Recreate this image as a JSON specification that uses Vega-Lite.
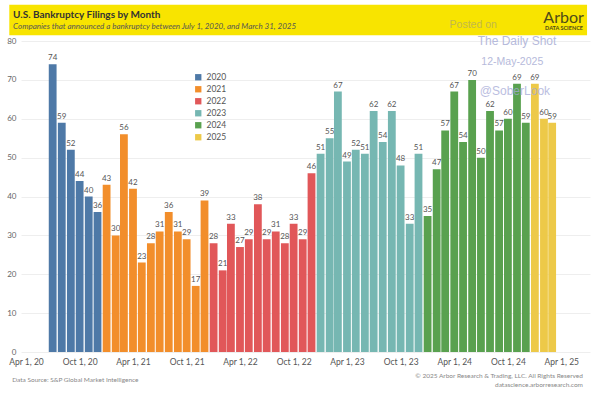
{
  "$schema": "https://vega.github.io/schema/vega-lite/v6.json",
  "width": 569,
  "height": 311,
  "autosize": {"type": "none"},
  "padding": {"left": 21, "top": 41, "right": 5, "bottom": 43},
  "background": "white",
  "config": {
    "view": {"stroke": null},
    "font": "Lato",
    "axisX": {"format": "%b %-d, %y", "formatType": "utc", "labelFlush": true, "labelOverlap": false, "domain": false, "ticks": false, "grid": false, "labelPadding": 5, "labelFontSize": 8.5, "labelColor": "#555555", "title": null},
    "axisY": {"domain": false, "ticks": false, "grid": true, "gridColor": "#eeeeee", "gridWidth": 1, "labelPadding": 5, "labelFontSize": 8, "labelColor": "#666666", "labelOverlap": false, "title": null}
  },
  "data": {"values": [
    {"month": "2020-07-01", "filings": 74, "year": "2020"},
    {"month": "2020-08-01", "filings": 59, "year": "2020"},
    {"month": "2020-09-01", "filings": 52, "year": "2020"},
    {"month": "2020-10-01", "filings": 44, "year": "2020"},
    {"month": "2020-11-01", "filings": 40, "year": "2020"},
    {"month": "2020-12-01", "filings": 36, "year": "2020"},
    {"month": "2021-01-01", "filings": 43, "year": "2021"},
    {"month": "2021-02-01", "filings": 30, "year": "2021"},
    {"month": "2021-03-01", "filings": 56, "year": "2021"},
    {"month": "2021-04-01", "filings": 42, "year": "2021"},
    {"month": "2021-05-01", "filings": 23, "year": "2021"},
    {"month": "2021-06-01", "filings": 28, "year": "2021"},
    {"month": "2021-07-01", "filings": 31, "year": "2021"},
    {"month": "2021-08-01", "filings": 36, "year": "2021"},
    {"month": "2021-09-01", "filings": 31, "year": "2021"},
    {"month": "2021-10-01", "filings": 29, "year": "2021"},
    {"month": "2021-11-01", "filings": 17, "year": "2021"},
    {"month": "2021-12-01", "filings": 39, "year": "2021"},
    {"month": "2022-01-01", "filings": 28, "year": "2022"},
    {"month": "2022-02-01", "filings": 21, "year": "2022"},
    {"month": "2022-03-01", "filings": 33, "year": "2022"},
    {"month": "2022-04-01", "filings": 27, "year": "2022"},
    {"month": "2022-05-01", "filings": 29, "year": "2022"},
    {"month": "2022-06-01", "filings": 38, "year": "2022"},
    {"month": "2022-07-01", "filings": 29, "year": "2022"},
    {"month": "2022-08-01", "filings": 31, "year": "2022"},
    {"month": "2022-09-01", "filings": 28, "year": "2022"},
    {"month": "2022-10-01", "filings": 33, "year": "2022"},
    {"month": "2022-11-01", "filings": 29, "year": "2022"},
    {"month": "2022-12-01", "filings": 46, "year": "2022"},
    {"month": "2023-01-01", "filings": 51, "year": "2023"},
    {"month": "2023-02-01", "filings": 55, "year": "2023"},
    {"month": "2023-03-01", "filings": 67, "year": "2023"},
    {"month": "2023-04-01", "filings": 49, "year": "2023"},
    {"month": "2023-05-01", "filings": 52, "year": "2023"},
    {"month": "2023-06-01", "filings": 51, "year": "2023"},
    {"month": "2023-07-01", "filings": 62, "year": "2023"},
    {"month": "2023-08-01", "filings": 54, "year": "2023"},
    {"month": "2023-09-01", "filings": 62, "year": "2023"},
    {"month": "2023-10-01", "filings": 48, "year": "2023"},
    {"month": "2023-11-01", "filings": 33, "year": "2023"},
    {"month": "2023-12-01", "filings": 51, "year": "2023"},
    {"month": "2024-01-01", "filings": 35, "year": "2024"},
    {"month": "2024-02-01", "filings": 47, "year": "2024"},
    {"month": "2024-03-01", "filings": 57, "year": "2024"},
    {"month": "2024-04-01", "filings": 67, "year": "2024"},
    {"month": "2024-05-01", "filings": 54, "year": "2024"},
    {"month": "2024-06-01", "filings": 70, "year": "2024"},
    {"month": "2024-07-01", "filings": 50, "year": "2024"},
    {"month": "2024-08-01", "filings": 62, "year": "2024"},
    {"month": "2024-09-01", "filings": 57, "year": "2024"},
    {"month": "2024-10-01", "filings": 60, "year": "2024"},
    {"month": "2024-11-01", "filings": 69, "year": "2024"},
    {"month": "2024-12-01", "filings": 59, "year": "2024"},
    {"month": "2025-01-01", "filings": 69, "year": "2025"},
    {"month": "2025-02-01", "filings": 60, "year": "2025"},
    {"month": "2025-03-01", "filings": 59, "year": "2025"}
  ]},
  "layer": [
    {
      "data": {"values": [{}]},
      "mark": {"type": "rect", "color": "#f8e400"},
      "encoding": {
        "x": {"datum": {"year": 2020, "month": 2, "date": 4, "utc": true}, "type": "temporal"},
        "x2": {"datum": {"year": 2025, "month": 6, "date": 28, "utc": true}},
        "y": {"datum": 89.3, "type": "quantitative", "axis": {"values": [0, 10, 20, 30, 40, 50, 60, 70, 80]}},
        "y2": {"datum": 81.5}
      }
    },
    {
      "data": {"values": [{}]},
      "mark": {"type": "text", "text": "U.S. Bankruptcy Filings by Month", "align": "left", "baseline": "alphabetic", "fontSize": 10, "fontWeight": "bold", "color": "#333333"},
      "encoding": {
        "x": {"datum": {"year": 2020, "month": 2, "date": 17, "utc": true}, "type": "temporal"},
        "y": {"datum": 85.8, "type": "quantitative", "axis": {"values": [0, 10, 20, 30, 40, 50, 60, 70, 80]}}
      }
    },
    {
      "data": {"values": [{}]},
      "mark": {"type": "text", "text": "Companies that announced a bankruptcy between July 1, 2020, and March 31, 2025", "align": "left", "baseline": "alphabetic", "fontSize": 8, "fontStyle": "italic", "color": "#555555"},
      "encoding": {
        "x": {"datum": {"year": 2020, "month": 2, "date": 17, "utc": true}, "type": "temporal"},
        "y": {"datum": 83.2, "type": "quantitative", "axis": {"values": [0, 10, 20, 30, 40, 50, 60, 70, 80]}}
      }
    },
    {
      "data": {"values": [{}]},
      "mark": {"type": "text", "text": "Posted on", "align": "left", "baseline": "alphabetic", "fontSize": 10.5, "font": "Liberation Sans", "color": "#c2b84a"},
      "encoding": {
        "x": {"datum": {"year": 2024, "month": 3, "date": 16, "utc": true}, "type": "temporal"},
        "y": {"datum": 83.3, "type": "quantitative", "axis": {"values": [0, 10, 20, 30, 40, 50, 60, 70, 80]}}
      }
    },
    {
      "data": {"values": [{}]},
      "mark": {"type": "text", "text": "Arbor", "align": "right", "baseline": "alphabetic", "fontSize": 16, "color": "#4f4c18"},
      "encoding": {
        "x": {"datum": {"year": 2025, "month": 6, "date": 17, "utc": true}, "type": "temporal"},
        "y": {"datum": 84.6, "type": "quantitative", "axis": {"values": [0, 10, 20, 30, 40, 50, 60, 70, 80]}}
      }
    },
    {
      "data": {"values": [{}]},
      "mark": {"type": "text", "text": "DATA SCIENCE", "align": "right", "baseline": "alphabetic", "fontSize": 5.5, "fontWeight": "bold", "color": "#4f4c18"},
      "encoding": {
        "x": {"datum": {"year": 2025, "month": 6, "date": 14, "utc": true}, "type": "temporal"},
        "y": {"datum": 82.8, "type": "quantitative", "axis": {"values": [0, 10, 20, 30, 40, 50, 60, 70, 80]}}
      }
    },
    {
      "data": {"values": [{}]},
      "mark": {"type": "text", "text": "The Daily Shot", "align": "center", "baseline": "alphabetic", "fontSize": 12, "font": "Liberation Sans", "color": "#b6badb"},
      "encoding": {
        "x": {"datum": {"year": 2024, "month": 11, "date": 1, "utc": true}, "type": "temporal"},
        "y": {"datum": 79.0, "type": "quantitative", "axis": {"values": [0, 10, 20, 30, 40, 50, 60, 70, 80]}}
      }
    },
    {
      "data": {"values": [{}]},
      "mark": {"type": "text", "text": "12-May-2025", "align": "center", "baseline": "alphabetic", "fontSize": 10.5, "font": "Liberation Sans", "color": "#b6badb"},
      "encoding": {
        "x": {"datum": {"year": 2024, "month": 10, "date": 16, "utc": true}, "type": "temporal"},
        "y": {"datum": 73.8, "type": "quantitative", "axis": {"values": [0, 10, 20, 30, 40, 50, 60, 70, 80]}}
      }
    },
    {
      "data": {"values": [{}]},
      "mark": {"type": "text", "text": "Data Source: S&P Global Market Intelligence", "align": "left", "baseline": "middle", "fontSize": 6.5, "color": "#888888"},
      "encoding": {
        "x": {"datum": {"year": 2020, "month": 2, "date": 14, "utc": true}, "type": "temporal"},
        "y": {"datum": -7.3, "type": "quantitative", "axis": {"values": [0, 10, 20, 30, 40, 50, 60, 70, 80]}}
      }
    },
    {
      "data": {"values": [{}]},
      "mark": {"type": "text", "text": "© 2025 Arbor Research & Trading, LLC. All Rights Reserved", "align": "right", "baseline": "middle", "fontSize": 6.5, "color": "#888888"},
      "encoding": {
        "x": {"datum": {"year": 2025, "month": 6, "date": 14, "utc": true}, "type": "temporal"},
        "y": {"datum": -6.2, "type": "quantitative", "axis": {"values": [0, 10, 20, 30, 40, 50, 60, 70, 80]}}
      }
    },
    {
      "data": {"values": [{}]},
      "mark": {"type": "text", "text": "datascience.arborresearch.com", "align": "right", "baseline": "middle", "fontSize": 6.5, "color": "#888888"},
      "encoding": {
        "x": {"datum": {"year": 2025, "month": 6, "date": 14, "utc": true}, "type": "temporal"},
        "y": {"datum": -8.5, "type": "quantitative", "axis": {"values": [0, 10, 20, 30, 40, 50, 60, 70, 80]}}
      }
    },
    {
      "mark": {"type": "text", "baseline": "alphabetic", "dy": -4, "fontSize": 8, "color": "#555555"},
      "encoding": {
        "x": {"field": "month", "type": "temporal"},
        "y": {"field": "filings", "type": "quantitative", "axis": {"values": [0, 10, 20, 30, 40, 50, 60, 70, 80]}},
        "text": {"field": "filings", "type": "quantitative"}
      }
    },
    {
      "mark": {"type": "bar", "size": 7.8},
      "encoding": {
        "x": {
          "field": "month", "type": "temporal", "title": null,
          "scale": {"type": "utc", "nice": false, "domain": [{"year": 2020, "month": 4, "date": 1, "utc": true}, {"year": 2025, "month": 6, "date": 21, "utc": true}]},
          "axis": {
            "values": [
              {"year": 2020, "month": 4, "date": 1, "utc": true},
              {"year": 2020, "month": 10, "date": 1, "utc": true},
              {"year": 2021, "month": 4, "date": 1, "utc": true},
              {"year": 2021, "month": 10, "date": 1, "utc": true},
              {"year": 2022, "month": 4, "date": 1, "utc": true},
              {"year": 2022, "month": 10, "date": 1, "utc": true},
              {"year": 2023, "month": 4, "date": 1, "utc": true},
              {"year": 2023, "month": 10, "date": 1, "utc": true},
              {"year": 2024, "month": 4, "date": 1, "utc": true},
              {"year": 2024, "month": 10, "date": 1, "utc": true},
              {"year": 2025, "month": 4, "date": 1, "utc": true}
            ],
            "format": "%b %-d, %y", "formatType": "utc"
          }
        },
        "y": {
          "field": "filings", "type": "quantitative", "title": null,
          "scale": {"domain": [0, 80], "nice": false},
          "axis": {"values": [0, 10, 20, 30, 40, 50, 60, 70, 80]}
        },
        "color": {
          "field": "year", "type": "nominal",
          "scale": {"domain": ["2020", "2021", "2022", "2023", "2024", "2025"], "range": ["#4e79a7", "#f28e2b", "#e15759", "#76b7b2", "#59a14f", "#edc948"]},
          "legend": {
            "title": null, "orient": "none", "legendX": 173, "legendY": 32,
            "symbolType": "square", "symbolSize": 40, "symbolStrokeWidth": 0,
            "labelFontSize": 8.5, "labelColor": "#555555", "rowPadding": 3, "labelOffset": 4
          }
        }
      }
    },
    {
      "data": {"values": [{}]},
      "mark": {"type": "text", "text": "@SoberLook", "align": "center", "baseline": "alphabetic", "fontSize": 12, "font": "Liberation Sans", "color": "#a4a9d6", "opacity": 0.75},
      "encoding": {
        "x": {"datum": {"year": 2024, "month": 10, "date": 25, "utc": true}, "type": "temporal"},
        "y": {"datum": 66.0, "type": "quantitative", "axis": {"values": [0, 10, 20, 30, 40, 50, 60, 70, 80]}}
      }
    }
  ]
}
